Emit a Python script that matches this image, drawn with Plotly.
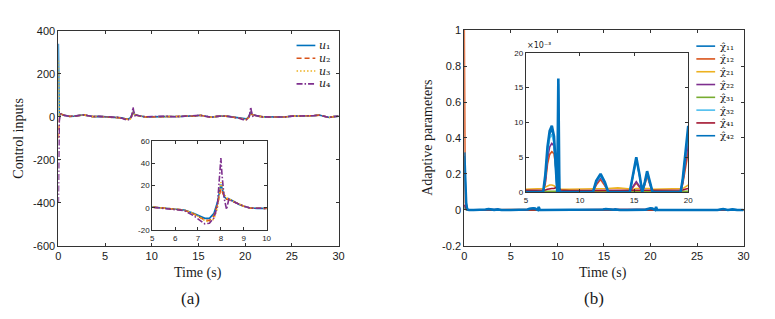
import plotly.graph_objects as go

# ---------------- data: panel (a) control inputs ----------------
t_u = [0, 0.03, 0.06, 0.1, 0.2, 0.3, 0.5, 0.8, 1.2, 1.7,
       2.2, 2.7, 3.2, 3.7, 4.3, 5.0, 5.5, 6.0, 6.4, 6.8,
       7.1, 7.3, 7.5, 7.7, 7.85, 7.95, 8.0, 8.05, 8.15, 8.25,
       8.35, 8.45, 8.6, 8.8, 9.0, 9.3, 9.6, 10.0, 10.8, 11.6,
       12.4, 13.2, 14.0, 14.6, 15.2, 15.8, 16.4, 17.0, 17.6, 18.2,
       19.0, 19.4, 19.7, 19.9, 20.1, 20.3, 20.45, 20.55, 20.6, 20.65,
       20.75, 20.85, 20.95, 21.05, 21.2, 21.4, 21.6, 21.9, 22.2, 22.6,
       23.4, 24.2, 25.0, 25.8, 26.6, 27.3, 27.9, 28.4, 29.0, 29.5, 30.0]

u1 = [340, 150, 30, 0, 12, 14, 8, 4, 2, 3,
      6, 9, 5, 1, 2, 0.5, -0.5, -1.5, -2, -5,
      -8, -9.5, -9.5, -5, 5, 17, 21, 18, 10, 8,
      8, 7, 5, 3, 1.5, -0.3, -0.5, -0.5, 2, 3,
      0, 2, 4, 3, 7, 2, -2, 2, 4, 2,
      -2, -5, -8, -9.5, -9.5, -5, 5, 17, 21, 18,
      10, 8, 8, 7, 5, 3, 1.5, -0.3, -0.5, -0.5,
      2, -1, 3, 4, 2, 5, 8, 2, -3, 1, 3]

u2 = [-100, -60, -20, -5, 10, 13, 8, 4, 2, 3,
      6, 9, 5, 1, 2, 0.5, -0.5, -1.5, -2, -5.5,
      -9, -11, -11.5, -7, 3, 13, 17, 15, 10, 8,
      7.5, 6.5, 5, 3, 1.5, -0.3, -0.5, -0.5, 2, 3,
      0, 2, 4, 3, 7, 2, -2, 2, 4, 2,
      -2, -5.5, -9, -11, -11.5, -7, 3, 13, 17, 15,
      10, 8, 7.5, 6.5, 5, 3, 1.5, -0.3, -0.5, -0.5,
      2, -1, 3, 4, 2, 5, 8, 2, -3, 1, 3]

u3 = [260, 120, 25, 0, 12, 14, 8, 4, 2, 3,
      6, 9, 5, 1, 2, 0.5, -0.5, -1.5, -2, -5,
      -9, -11.5, -13, -10, 0, 15, 23, 20, 12, 9,
      8, 7, 5, 3, 1.5, -0.3, -0.5, -0.5, 2, 3,
      0, 2, 4, 3, 7, 2, -2, 2, 4, 2,
      -2, -5, -9, -11.5, -13, -10, 0, 15, 23, 20,
      12, 9, 8, 7, 5, 3, 1.5, -0.3, -0.5, -0.5,
      2, -1, 3, 4, 2, 5, 8, 2, -3, 1, 3]

u4 = [-400, -300, -120, -20, 10, 14, 8, 4, 2, 3,
      6, 9, 5, 1, 2, 0.5, -0.5, -1.5, -2.5, -7,
      -12, -14.5, -14, -9, 2, 30, 45, 30, 8, -1.5,
      8, 6.5, 5, 3, 1.5, -0.3, -0.5, -0.5, 2, 3,
      0, 2, 4, 3, 7, 2, -2, 2, 4, 2,
      -2.5, -7, -12, -14.5, -14, -9, 2, 30, 45, 30,
      8, -1.5, 8, 6.5, 5, 3, 1.5, -0.3, -0.5, -0.5,
      2, -1, 3, 4, 2, 5, 8, 2, -3, 1, 3]

u_names = ["<i>u</i>₁", "<i>u</i>₂", "<i>u</i>₃", "<i>u</i>₄"]
u_colors = ["#0072BD", "#D95319", "#EDB120", "#7E2F8E"]
u_dashes = ["solid", "5px,3px", "1.5px,2px", "6px,2px,1.5px,2px"]

# ---------------- data: panel (b) adaptive parameters (x 1e-3) ----------------
t_x = [0, 0.05, 0.1, 0.2, 0.3, 0.5, 1.0, 2.0, 2.3, 2.6,
       2.9, 3.2, 3.6, 4.0, 5.0, 6.0, 6.6, 6.8, 7.0, 7.2,
       7.4, 7.6, 7.8, 7.9, 8.0, 8.1, 8.2, 9.0, 10.0, 11.2,
       11.5, 11.9, 12.3, 12.6, 13.5, 14.6, 14.9, 15.2, 15.5, 15.75,
       16.0, 16.2, 16.45, 16.7, 17.5, 18.5, 19.3, 19.5, 19.7, 19.85,
       20.0, 20.2, 20.4, 20.5, 20.6, 20.7, 21.0, 22.0, 23.8, 24.5,
       25.2, 26.5, 27.2, 27.8, 28.3, 28.8, 29.3, 30.0]

chi11 = [300, 230, 110, 35, 4, 0, 0, 0, 2.3, 4.7,
         1.4, 0.4, 2.8, 0, 0, 0, 0, 2.3, 6.1, 8.3,
         9.0, 7.6, 2.3, 0, 15.5, 0, 0, 0, 0, 0,
         1.5, 2.4, 1.3, 0, 0, 0, 2.4, 4.8, 2.4, 0,
         1.4, 2.8, 1.4, 0, 0, 0, 0, 1.9, 4.7, 7.6,
         9.0, 7.6, 2.3, 0, 15.5, 0, 0, 0, 0, 2.4,
         0, 0, 0, 4.8, 0, 2.8, 0, 0]
chi12 = [1000, 150, 40, 10, 2, 0, 0, 0, 0.7, 1.3,
         0.4, 0.2, 1.5, 0, 0, 0, 0, 1.2, 4.0, 5.4,
         5.8, 5.5, 3.2, 1.2, 2.5, 0, 0, 0, 0, 0,
         1.0, 1.8, 0.9, 0, 0, 0, 0.7, 1.3, 0.7, 0,
         1.1, 2.3, 1.1, 0, 0, 0, 0, 1.2, 3.2, 4.8,
         5.8, 5.5, 3.2, 1.2, 2.5, 0, 0, 0, 0, 1.8,
         0, 0, 0, 1.3, 0, 2.3, 0, 0]
chi21 = [15, 10, 6, 3, 1.5, 0.8, 0.5, 0.4, 0.5, 0.6,
         0.5, 0.4, 0.5, 0.4, 0.4, 0.4, 0.5, 0.7, 0.9, 1.0,
         1.0, 0.9, 0.6, 0.5, 0.6, 0.5, 0.4, 0.4, 0.4, 0.4,
         0.5, 0.5, 0.5, 0.5, 0.6, 0.5, 0.4, 0.5, 0.5, 0.5,
         0.6, 0.6, 0.5, 0.4, 0.4, 0.4, 0.4, 0.5, 0.7, 0.9,
         1.0, 0.9, 0.6, 0.5, 0.6, 0.5, 0.4, 0.4, 0.5, 0.5,
         0.5, 0.5, 0.6, 0.5, 0.4, 0.5, 0.4, 0.4]
chi22 = [30, 20, 10, 3, 0.5, 0, 0, 0, 0.8, 1.5,
         0.5, 0.2, 1.8, 0, 0, 0, 0, 1.5, 4.8, 6.5,
         7.0, 6.6, 4.0, 1.5, 3.0, 0, 0, 0, 0, 0,
         1.2, 2.1, 1.1, 0, 0, 0, 0.8, 1.5, 0.8, 0,
         1.3, 2.7, 1.3, 0, 0, 0, 0, 1.5, 3.8, 5.8,
         7.0, 6.6, 4.0, 1.5, 3.0, 0, 0, 0, 0, 2.1,
         0, 0, 0, 1.5, 0, 2.7, 0, 0]
chi31 = [10, 6, 3, 1, 0.3, 0.1, 0.1, 0.1, 0.1, 0.1,
         0.1, 0.1, 0.1, 0.1, 0.1, 0.1, 0.1, 0.1, 0.15, 0.2,
         0.2, 0.2, 0.15, 0.1, 0.15, 0.1, 0.1, 0.1, 0.1, 0.1,
         0.1, 0.1, 0.1, 0.1, 0.1, 0.1, 0.1, 0.1, 0.1, 0.1,
         0.1, 0.1, 0.1, 0.1, 0.1, 0.1, 0.1, 0.1, 0.15, 0.2,
         0.2, 0.2, 0.15, 0.1, 0.15, 0.1, 0.1, 0.1, 0.1, 0.1,
         0.1, 0.1, 0.1, 0.1, 0.1, 0.1, 0.1, 0.1]
chi32 = [20, 15, 8, 3, 0.5, 0, 0, 0, 2.2, 4.5,
         1.3, 0.4, 2.6, 0, 0, 0, 0, 2.2, 5.7, 7.7,
         8.3, 7.0, 2.2, 0, 14.0, 0, 0, 0, 0, 0,
         1.4, 2.3, 1.2, 0, 0, 0, 2.3, 4.6, 2.3, 0,
         1.3, 2.7, 1.3, 0, 0, 0, 0, 1.8, 4.5, 7.2,
         8.5, 7.0, 2.2, 0, 14.0, 0, 0, 0, 0, 2.3,
         0, 0, 0, 4.6, 0, 2.7, 0, 0]
chi41 = [20, 25, 15, 5, 1, 0.3, 0.2, 0.2, 0.3, 0.4,
         0.3, 0.2, 0.3, 0.2, 0.2, 0.2, 0.2, 0.3, 0.4, 0.5,
         0.5, 0.5, 0.6, 0.7, 0.8, 0.5, 0.3, 0.2, 0.2, 0.2,
         0.2, 0.3, 0.2, 0.2, 0.2, 0.2, 0.2, 0.3, 0.3, 0.2,
         0.3, 0.3, 0.3, 0.2, 0.2, 0.2, 0.2, 0.3, 0.4, 0.5,
         0.5, 0.5, 0.6, 0.7, 0.8, 0.5, 0.3, 0.2, 0.2, 0.3,
         0.2, 0.2, 0.2, 0.3, 0.2, 0.3, 0.2, 0.2]
chi42 = [320, 250, 120, 40, 5, 0, 0, 0, 2.5, 5,
         1.5, 0.5, 3, 0, 0, 0, 0, 2.5, 6.5, 8.8,
         9.5, 8, 2.5, 0, 16.3, 0, 0, 0, 0, 0,
         1.6, 2.6, 1.4, 0, 0, 0, 2.5, 5, 2.5, 0,
         1.5, 3, 1.5, 0, 0, 0, 0, 2, 5, 8,
         9.5, 8, 2.5, 0, 16.3, 0, 0, 0, 0, 2.6,
         0, 0, 0, 5, 0, 3, 0, 0]

chi_series = [chi11, chi12, chi21, chi22, chi31, chi32, chi41, chi42]
chi_names = ["χ̂₁₁", "χ̂₁₂", "χ̂₂₁", "χ̂₂₂", "χ̂₃₁", "χ̂₃₂", "χ̂₄₁", "χ̂₄₂"]
chi_colors = ["#0072BD", "#D95319", "#EDB120", "#7E2F8E",
              "#77AC30", "#4DBEEE", "#A2142F", "#0072BD"]
chi_widths = [1.6, 1.6, 1.6, 1.6, 1.6, 1.6, 1.6, 2.6]

# ---------------- layout helpers ----------------
W, H = 775, 319
def fx(p): return p / W
def fy(p): return 1 - p / H

AX = "#333333"
SANS = "Liberation Sans, Arial, sans-serif"
SERIF = "DejaVu Serif, Liberation Serif, serif"
SERIF_T = "Liberation Serif, Times New Roman, serif"

def axis(dom, rng, size, **kw):
    d = dict(domain=dom, range=rng, showline=True, linecolor=AX, linewidth=1,
             mirror="ticks", ticks="inside", ticklen=3, tickcolor=AX, tickwidth=1,
             showgrid=False, zeroline=False, fixedrange=True,
             tickfont=dict(family=SANS, size=size, color="#1a1a1a"))
    d.update(kw)
    return d

fig = go.Figure()

# panel (a) main + inset
for y, n, c, d in zip([u1, u2, u3, u4], u_names, u_colors, u_dashes):
    fig.add_trace(go.Scatter(x=t_u, y=y, mode="lines", name=n, showlegend=False,
                             line=dict(color=c, width=1.6, dash=d), xaxis="x", yaxis="y"))
for y, n, c, d in zip([u1, u2, u3, u4], u_names, u_colors, u_dashes):
    fig.add_trace(go.Scatter(x=t_u, y=y, mode="lines", name=n, showlegend=False,
                             line=dict(color=c, width=1.6, dash=d), xaxis="x2", yaxis="y2"))

# panel (b) main + inset
for y, n, c, w in zip(chi_series, chi_names, chi_colors, chi_widths):
    fig.add_trace(go.Scatter(x=t_x, y=[v / 1000 for v in y], mode="lines", name=n,
                             showlegend=False, line=dict(color=c, width=w),
                             xaxis="x3", yaxis="y3"))
for y, n, c, w in zip(chi_series, chi_names, chi_colors, chi_widths):
    fig.add_trace(go.Scatter(x=t_x, y=y, mode="lines", name=n,
                             showlegend=False, line=dict(color=c, width=w),
                             xaxis="x4", yaxis="y4"))

yt_a = [-600, -400, -200, 0, 200, 400]
yt_ai = [-20, 0, 20, 40, 60]
yt_b = [-0.2, 0, 0.2, 0.4, 0.6, 0.8, 1]
yt_bi = [0, 5, 10, 15, 20]

fig.update_layout(
    width=W, height=H, margin=dict(l=0, r=0, t=0, b=0),
    paper_bgcolor="white", plot_bgcolor="white", showlegend=False,
    xaxis=axis([fx(56), fx(339.5)], [0, 30], 11, tickvals=[0, 5, 10, 15, 20, 25, 30], anchor="y"),
    yaxis=axis([fy(249.3), fy(25.7)], [-600, 400], 11, tickvals=yt_a,
               ticktext=[str(v) for v in yt_a], anchor="x"),
    xaxis2=axis([fx(151), fx(266.7)], [5, 10], 8, tickvals=[5, 6, 7, 8, 9, 10], anchor="y2"),
    yaxis2=axis([fy(232.7), fy(140.7)], [-20, 60], 8, tickvals=yt_ai,
                ticktext=[str(v) for v in yt_ai], anchor="x2"),
    xaxis3=axis([fx(466.7), fx(749.3)], [0, 30], 11, tickvals=[0, 5, 10, 15, 20, 25, 30], anchor="y3"),
    yaxis3=axis([fy(249.3), fy(25)], [-0.2, 1], 11, tickvals=yt_b,
                ticktext=["-0.2", "0", "0.2", "0.4", "0.6", "0.8", "1"], anchor="x3"),
    xaxis4=axis([fx(529), fx(693.3)], [5, 20], 8, tickvals=[5, 10, 15, 20], anchor="y4"),
    yaxis4=axis([fy(193.3), fy(48.6)], [0, 20], 8, tickvals=yt_bi,
                ticktext=[str(v) for v in yt_bi], anchor="x4"),
)

ann = []
shapes = []

def label(text, x, y, size, family=SERIF_T, angle=0, xa="center", ya="middle"):
    ann.append(dict(text=text, x=fx(x), y=fy(y), xref="paper", yref="paper",
                    xanchor=xa, yanchor=ya, textangle=angle, showarrow=False,
                    font=dict(family=family, size=size, color="#1a1a1a")))

# axis titles and captions
label("Time (s)", 197.5, 277, 14)
label("Time (s)", 607.5, 277, 14)
label("Control inputs", 16, 137, 14, angle=-90)
label("Adaptive parameters", 430, 137, 14, angle=-90)
label("(a)", 190, 304, 17)
label("(b)", 598, 304, 17)
label("×10⁻³", 528, 48, 8, family="DejaVu Sans, sans-serif", xa="left", ya="bottom")

# legend (a)
for i, (n, c, d) in enumerate(zip(u_names, u_colors, u_dashes)):
    yy = 41 + i * 13.3
    shapes.append(dict(type="line", xref="paper", yref="paper",
                       x0=fx(297), x1=fx(316), y0=fy(yy), y1=fy(yy),
                       line=dict(color=c, width=1.6, dash=d)))
    label(n, 318, yy, 11, family=SERIF, xa="left")
# legend (b)
for i, (n, c, w) in enumerate(zip(chi_names, chi_colors, chi_widths)):
    yy = 41.7 + i * 13.3
    shapes.append(dict(type="line", xref="paper", yref="paper",
                       x0=fx(701.5), x1=fx(720.5), y0=fy(yy), y1=fy(yy),
                       line=dict(color=c, width=1.6)))
    label(n, 723, yy, 10, family=SERIF, xa="left")

fig.update_layout(annotations=ann, shapes=shapes)
fig.write_html("out.html", config={"displayModeBar": False},
               post_script="document.body.style.margin='0';document.body.style.overflow='hidden';")
